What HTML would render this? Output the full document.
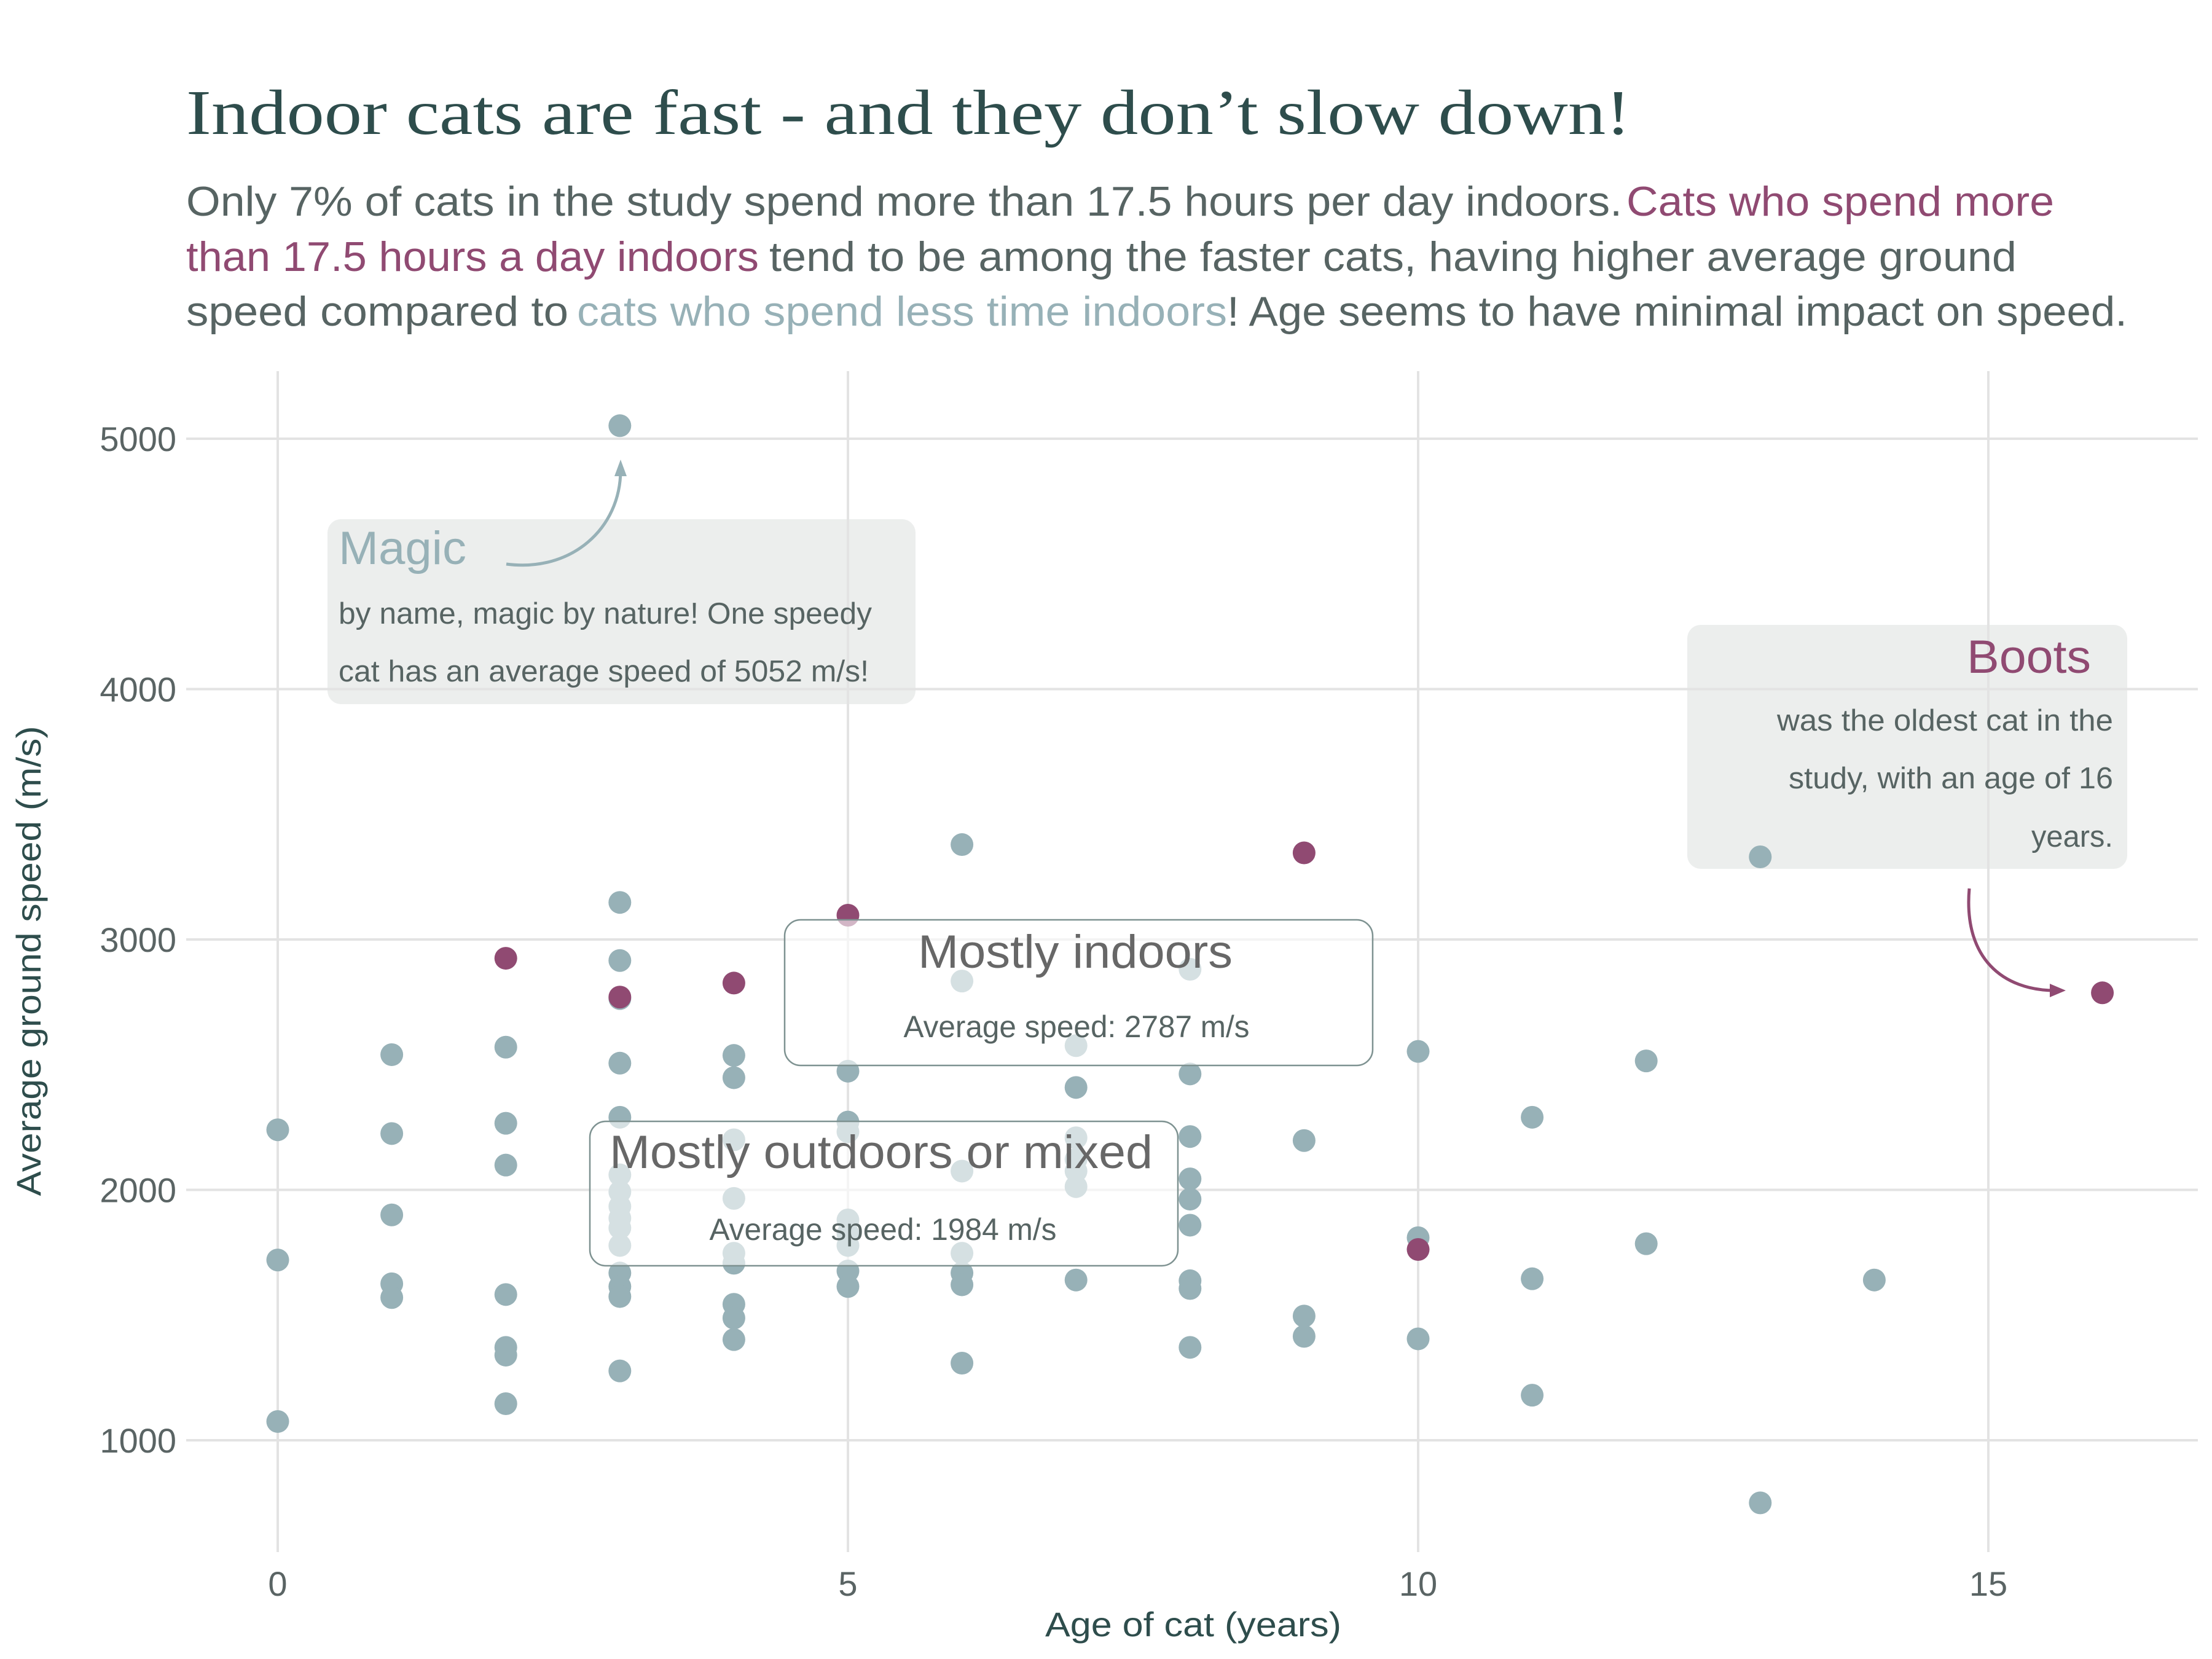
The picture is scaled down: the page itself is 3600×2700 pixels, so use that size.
<!DOCTYPE html>
<html><head><meta charset="utf-8">
<style>
html,body{margin:0;padding:0;background:#fff;}
svg{display:block;}
</style></head>
<body>
<svg id="chart" width="3600" height="2700" viewBox="0 0 3600 2700" xmlns="http://www.w3.org/2000/svg" font-family="Liberation Sans, sans-serif">
<rect width="3600" height="2700" fill="#fff"/>
<text x="303" y="218" font-family="Liberation Serif, serif" font-size="104" fill="#2e4d4c" textLength="2351" lengthAdjust="spacingAndGlyphs">Indoor cats are fast - and they don’t slow down!</text>
<g font-size="68" fill="#576463">
<text x="303" y="351"><tspan textLength="2337" lengthAdjust="spacingAndGlyphs">Only 7% of cats in the study spend more than 17.5 hours per day indoors.</tspan><tspan x="2647" fill="#904a72" textLength="696" lengthAdjust="spacingAndGlyphs">Cats who spend more</tspan></text>
<text x="303" y="441"><tspan fill="#904a72" textLength="932" lengthAdjust="spacingAndGlyphs">than 17.5 hours a day indoors</tspan><tspan x="1252" textLength="2030" lengthAdjust="spacingAndGlyphs">tend to be among the faster cats, having higher average ground</tspan></text>
<text x="303" y="530"><tspan textLength="622" lengthAdjust="spacingAndGlyphs">speed compared to</tspan><tspan x="939" fill="#97b1b7" textLength="1058" lengthAdjust="spacingAndGlyphs">cats who spend less time indoors</tspan><tspan x="1997" textLength="1465" lengthAdjust="spacingAndGlyphs">! Age seems to have minimal impact on speed.</tspan></text>
</g>
<g id="annboxes"></g>
<g id="grid"></g>
<g id="axes"></g>
<g id="points"></g>
<g id="overlay"></g>
</svg>
<script>
const ages   = [0,0,0, 1,1,1,1,1, 2,2,2,2,2,2,2, 3,3,3,3,3,3,3,3,3,3,3,3,3,3,3,3, 4,4,4,4,4,4,4,4,4, 5,5,5,5,5,5,5,5, 6,6,6,6,6,6,6, 7,7,7,7,7,7,7, 8,8,8,8,8,8,8,8,8, 9,9,9, 10,10,10, 11,11,11, 12,12, 13,13, 14];
const speeds = [2240,1720,1075, 2540,2225,1900,1625,1570, 2570,2266,2099,1582,1371,1340,1146, 5052,3148,2916,2764,2506,2290,2060,1992,1934,1887,1848,1778,1668,1614,1574,1277, 2537,2448,2200,1966,1747,1707,1543,1488,1402, 2474,2271,2232,1880,1825,1778,1676,1614, 3379,2834,2075,1747,1668,1621,1308, 2576,2409,2208,2122,2075,2013,1640, 2881,2463,2213,2044,1963,1859,1637,1606,1371, 2197,1496,1415, 2553,1809,1405, 2290,1645,1180, 2515,1785, 3330,750, 1640];
const indoorAges   = [2,3,4,5,9,10,16];
const indoorSpeeds = [2925,2770,2826,3097,3346,1762,2787];
const xTicks = [0,5,10,15];
const yTicks = [1000,2000,3000,4000,5000];

const NS="http://www.w3.org/2000/svg";
const X = a => 452 + a*185.6;
const Y = v => 2344 - (v-1000)*0.4075;
function mk(tag, attrs, parent, txt){
  const e=document.createElementNS(NS,tag);
  for(const k in attrs) e.setAttribute(k,attrs[k]);
  if(txt!==undefined) e.textContent=txt;
  parent.appendChild(e); return e;
}
const g=id=>document.getElementById(id);

let mb=mk('rect',{x:533,y:845,width:957,height:301,rx:22,fill:'#eceeed'},g('annboxes'));


let bb=mk('rect',{x:2746,y:1017,width:716,height:397,rx:22,fill:'#eceeed'},g('annboxes'));



xTicks.forEach(t=>{
  let l=mk('line',{x1:X(t),x2:X(t),y1:604,y2:2526,stroke:'#e3e3e3','stroke-width':4},g('grid'));
  
  
  let tx=mk('text',{x:X(t),y:2597,'text-anchor':'middle','font-size':56,fill:'#5a6464'},g('axes'),String(t));
  
  
});
yTicks.forEach(t=>{
  let l=mk('line',{x1:303,x2:3577,y1:Y(t),y2:Y(t),stroke:'#e3e3e3','stroke-width':4},g('grid'));
  
  
  let tx=mk('text',{x:287,y:Y(t)+20,'text-anchor':'end','font-size':56,fill:'#5a6464'},g('axes'),String(t));
  
  
});
let xt=mk('text',{x:1942,y:2663,'text-anchor':'middle','font-size':56,fill:'#2e4d4c',textLength:482,lengthAdjust:'spacingAndGlyphs'},g('axes'),'Age of cat (years)');


let yt=mk('text',{x:0,y:0,'text-anchor':'middle','font-size':56,fill:'#2e4d4c',textLength:765,lengthAdjust:'spacingAndGlyphs',transform:'translate(66,1564) rotate(-90)'},g('axes'),'Average ground speed (m/s)');



ages.forEach((a,i)=>{
  let c=mk('circle',{cx:X(a),cy:Y(speeds[i]),r:18.5,fill:'#97b1b7'},g('points'));
  
  
});
indoorAges.forEach((a,i)=>{
  let c=mk('circle',{cx:X(a),cy:Y(indoorSpeeds[i]),r:18.5,fill:'#904a72'},g('points'));
  
  
});

const ov=g('overlay');
let ib=mk('rect',{x:1277,y:1497,width:957,height:237,rx:26,fill:'#fff','fill-opacity':0.6,stroke:'#7e9291','stroke-width':2.5},ov);


let t1=mk('text',{x:1750,y:1575,'text-anchor':'middle','font-size':76,fill:'#676767',textLength:512,lengthAdjust:'spacingAndGlyphs'},ov,'Mostly indoors');


let t2=mk('text',{x:1752,y:1688,'text-anchor':'middle','font-size':50,fill:'#576463',textLength:563,lengthAdjust:'spacingAndGlyphs'},ov,'Average speed: 2787 m/s');


let ob=mk('rect',{x:960,y:1825,width:957,height:235,rx:26,fill:'#fff','fill-opacity':0.6,stroke:'#7e9291','stroke-width':2.5},ov);


let t3=mk('text',{x:1434,y:1901,'text-anchor':'middle','font-size':76,fill:'#676767',textLength:884,lengthAdjust:'spacingAndGlyphs'},ov,'Mostly outdoors or mixed');


let t4=mk('text',{x:1437,y:2018,'text-anchor':'middle','font-size':50,fill:'#576463',textLength:565,lengthAdjust:'spacingAndGlyphs'},ov,'Average speed: 1984 m/s');



let mt=mk('text',{x:551,y:918,'font-size':76,fill:'#97b1b7',textLength:208,lengthAdjust:'spacingAndGlyphs'},ov,'Magic');


let m1=mk('text',{x:551,y:1015,'font-size':49,fill:'#576463',textLength:868,lengthAdjust:'spacingAndGlyphs'},ov,'by name, magic by nature! One speedy');


let m2=mk('text',{x:551,y:1109,'font-size':49,fill:'#576463',textLength:863,lengthAdjust:'spacingAndGlyphs'},ov,'cat has an average speed of 5052 m/s!');


let ma=mk('path',{d:'M824 918 C930 932 1010 860 1010 765',fill:'none',stroke:'#97b1b7','stroke-width':5},ov);


let mh=mk('path',{d:'M1010 748 L1000 775 L1020 775 Z',fill:'#97b1b7'},ov);



let bt=mk('text',{x:3403,y:1095,'text-anchor':'end','font-size':76,fill:'#904a72',textLength:202,lengthAdjust:'spacingAndGlyphs'},ov,'Boots');


[['was the oldest cat in the',1189,547],['study, with an age of 16',1283,528],['years.',1378,133]].forEach(r=>{
  let e=mk('text',{x:3439,y:r[1],'text-anchor':'end','font-size':49,fill:'#576463',textLength:r[2],lengthAdjust:'spacingAndGlyphs'},ov,r[0]);
  
  
});
let ba=mk('path',{d:'M3205 1446 C3195 1560 3260 1612 3345 1612',fill:'none',stroke:'#904a72','stroke-width':5},ov);


let bh=mk('path',{d:'M3362 1612 L3336 1601 L3336 1623 Z',fill:'#904a72'},ov);


</script>
</body></html>
